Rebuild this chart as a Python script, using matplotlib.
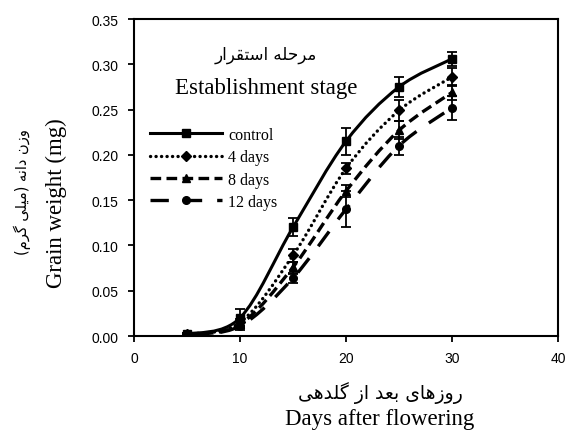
import matplotlib
matplotlib.use("Agg")
import matplotlib.pyplot as plt
from matplotlib.path import Path
from matplotlib.patches import PathPatch
from matplotlib.lines import Line2D

# data
days = [5, 10, 15, 20, 25, 30]
control = [0.002, 0.020, 0.120, 0.215, 0.275, 0.306]
control_err = [0.001, 0.010, 0.010, 0.015, 0.011, 0.008]
days4 = [0.002, 0.015, 0.089, 0.185, 0.249, 0.286]
days4_err = [0.001, 0.004, 0.007, 0.006, 0.012, 0.010]
days8 = [0.001, 0.013, 0.076, 0.160, 0.227, 0.269]
days8_err = [0.001, 0.004, 0.006, 0.007, 0.010, 0.008]
days12 = [0.001, 0.011, 0.064, 0.140, 0.210, 0.252]
days12_err = [0.001, 0.004, 0.005, 0.020, 0.010, 0.013]
labels = ["control", "4 days", "8 days", "12 days"]
x_ticks = [0, 10, 20, 30, 40]
y_ticks = [0.00, 0.05, 0.10, 0.15, 0.20, 0.25, 0.30, 0.35]

# persian text written with presentation forms (matplotlib does no shaping)
def visual(codes, swap_parens=False):
    s = "".join(chr(c) if isinstance(c, int) else c for c in codes)[::-1]
    if swap_parens:
        s = s.translate(str.maketrans("()", ")("))
    return s

title_fa = visual([0xFEE3, 0xFEAE, 0xFEA3, 0xFEE0, 0xFEEA, " ",
                   0xFE8D, 0xFEB3, 0xFE98, 0xFED8, 0xFEAE, 0xFE8D, 0xFEAD])
ylabel_fa = visual([0xFEED, 0xFEAF, 0xFEE5, " ", 0xFEA9, 0xFE8D, 0xFEE7, 0xFEEA, " ",
                    "(", 0xFEE3, 0xFBFF, 0xFEE0, 0xFBFD, " ", 0xFB94, 0xFEAE, 0xFEE1, ")"],
                   swap_parens=True)
xlabel_fa = visual([0xFEAD, 0xFEED, 0xFEAF, 0xFEEB, 0xFE8E, 0xFBFC, " ",
                    0xFE91, 0xFECC, 0xFEAA, " ", 0xFE8D, 0xFEAF, " ",
                    0xFB94, 0xFEE0, 0xFEAA, 0xFEEB, 0xFBFD])

serif = "Liberation Serif"
fa_font = ["DejaVu Sans"]


def smooth_path(xs, ys):
    # excel-like smoothed line: bezier segments through the points
    pts = list(zip(xs, ys))
    n = len(pts)
    verts = [pts[0]]
    codes = [Path.MOVETO]
    for i in range(n - 1):
        p0 = pts[i - 1] if i > 0 else pts[i]
        p1 = pts[i]
        p2 = pts[i + 1]
        p3 = pts[i + 2] if i + 2 < n else pts[i + 1]
        c1 = (p1[0] + (p2[0] - p0[0]) / 6, p1[1] + (p2[1] - p0[1]) / 6)
        c2 = (p2[0] - (p3[0] - p1[0]) / 6, p2[1] - (p3[1] - p1[1]) / 6)
        verts += [c1, c2, p2]
        codes += [Path.CURVE4] * 3
    return Path(verts, codes)


series = [
    (control, control_err, "-", "s", 2.2, "butt"),
    (days4, days4_err, (0, (0.05, 1.6)), "D", 2.4, "round"),
    (days8, days8_err, (0, (3.2, 1.6)), "^", 2.4, "butt"),
    (days12, days12_err, (0, (5.5, 4.5)), "o", 2.4, "butt"),
]

fig = plt.figure(figsize=(5.66, 4.39), dpi=100)
ax = fig.add_axes([0.2367, 0.2323, 0.7492, 0.7221])

handles = []
for (vals, err, ls, mk, lw, cap), lab in zip(series, labels):
    patch = PathPatch(smooth_path(days, vals), facecolor="none", edgecolor="black",
                      linewidth=lw, linestyle=ls, capstyle=cap, zorder=2)
    ax.add_patch(patch)
    ax.errorbar(days, vals, yerr=err, fmt=mk, color="black", markersize=5.5,
                ecolor="black", elinewidth=1.3, capsize=3.5, capthick=1.3, zorder=3)
    handles.append(Line2D([0], [0], color="black", linestyle=ls, linewidth=lw,
                          dash_capstyle=cap, marker=mk, markersize=5.5, label=lab))

ax.set_xlim(0, 40)
ax.set_ylim(0, 0.35)
ax.set_xticks(x_ticks)
ax.set_yticks(y_ticks)
ax.set_yticklabels(["%.2f" % v for v in y_ticks])
ax.tick_params(direction="out", length=4, width=1.3, labelsize=10, pad=7)
for lab in ax.get_xticklabels() + ax.get_yticklabels():
    lab.set_fontfamily("Liberation Sans")
for sp in ax.spines.values():
    sp.set_linewidth(1.5)

leg = ax.legend(handles=handles, loc="upper left", bbox_to_anchor=(0.005, 0.705),
                frameon=False, handlelength=4.5, handletextpad=0.35,
                labelspacing=0.4, numpoints=1,
                prop={"family": serif, "size": 11.5})

ax.text(0.311, 0.89, title_fa, transform=ax.transAxes, ha="center", va="center",
        family=fa_font, fontsize=12)
ax.text(0.311, 0.785, "Establishment stage", transform=ax.transAxes, ha="center",
        va="center", family=serif, fontsize=16.5)

fig.text(56 / 566, 1 - 203 / 439, "Grain weight (mg)", rotation=90, ha="center",
         va="center", family=serif, fontsize=16.5)
fig.text(22 / 566, 1 - 192 / 439, ylabel_fa, rotation=90, ha="center", va="center",
         family=fa_font, fontsize=10.5)
fig.text(380 / 566, 1 - 393 / 439, xlabel_fa, ha="center", va="center",
         family=fa_font, fontsize=13.5)
fig.text(380 / 566, 1 - 420 / 439, "Days after flowering", ha="center", va="center",
         family=serif, fontsize=16.5)

fig.savefig("out.png", dpi=100)
